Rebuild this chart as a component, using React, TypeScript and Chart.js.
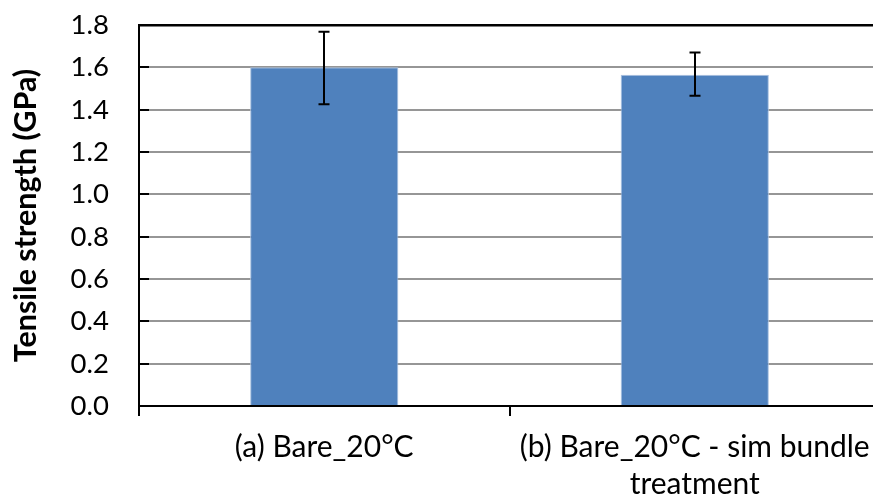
import React, { useEffect, useRef } from "react";
import { Chart, registerables } from "chart.js";

Chart.register(...registerables);

const categories: (string | string[])[] = [
  "(a) Bare_20°C",
  ["(b) Bare_20°C - sim bundle", "treatment"],
];
const strengthValues = [1.6, 1.565];
const errorHigh = [1.768, 1.67];
const errorLow = [1.426, 1.466];
const yTitle = "Tensile strength (GPa)";
const yMin = 0;
const yMax = 1.8;
const yStep = 0.2;

const FONT = "Lato, 'Open Sans', sans-serif";

const errorBarPlugin = {
  id: "errorBars",
  afterDatasetsDraw(chart: any) {
    const { ctx, scales, chartArea } = chart;
    const xs = scales.x;
    const ys = scales.y;
    ctx.save();
    ctx.strokeStyle = "#000";
    ctx.lineWidth = 2;
    ys.ticks.forEach((t: any) => {
      const py = Math.round(ys.getPixelForValue(t.value));
      ctx.beginPath();
      ctx.moveTo(chartArea.left, py);
      ctx.lineTo(chartArea.left + 10, py);
      ctx.stroke();
    });
    const cap = 5.5;
    strengthValues.forEach((_, i) => {
      const px = Math.round(xs.getPixelForValue(i));
      const hi = ys.getPixelForValue(errorHigh[i]);
      const lo = ys.getPixelForValue(errorLow[i]);
      ctx.beginPath();
      ctx.moveTo(px, hi);
      ctx.lineTo(px, lo);
      ctx.moveTo(px - cap, hi);
      ctx.lineTo(px + cap, hi);
      ctx.moveTo(px - cap, lo);
      ctx.lineTo(px + cap, lo);
      ctx.stroke();
    });
    ctx.restore();
  },
};

export default function App() {
  const ref = useRef<HTMLCanvasElement>(null);
  useEffect(() => {
    if (!ref.current) return;
    const chart = new Chart(ref.current, {
      type: "bar",
      data: {
        labels: categories as any,
        datasets: [
          {
            data: strengthValues,
            backgroundColor: "#4F81BD",
            borderColor: "#A9C1E0",
            borderWidth: 1,
            barPercentage: 0.4,
            categoryPercentage: 1,
          },
        ],
      },
      options: {
        animation: false,
        responsive: false,
        maintainAspectRatio: false,
        layout: { padding: { top: 25, left: 0, right: 0, bottom: 0 } },
        plugins: {
          legend: { display: false },
          tooltip: { enabled: false },
        },
        scales: {
          x: {
            offset: true,
            grid: {
              display: true,
              offset: true,
              drawOnChartArea: false,
              drawTicks: true,
              tickLength: 10,
              color: "#000",
              lineWidth: 2,
            },
            border: { display: true, color: "#000", width: 2 },
            ticks: {
              color: "#000",
              font: { family: FONT, size: 30, lineHeight: 1.23 },
              padding: 13,
              maxRotation: 0,
              autoSkip: false,
            },
            afterFit: (s: any) => {
              s.height = 92;
              s.paddingLeft = 0;
              s.paddingRight = 0;
              s.paddingTop = 0;
              s.paddingBottom = 0;
            },
          },
          y: {
            min: yMin,
            max: yMax,
            grid: {
              drawTicks: false,
              color: (c: any) =>
                c.tick && Math.abs(c.tick.value - yMax) < 1e-6 ? "#000" : "#969696",
              lineWidth: (c: any) =>
                c.tick && Math.abs(c.tick.value - yMax) < 1e-6 ? 2.5 : 2,
            },
            border: { display: true, color: "#000", width: 2 },
            ticks: {
              stepSize: yStep,
              color: "#000",
              padding: 30,
              font: { family: FONT, size: 27.5 },
              callback: (v: any) => Number(v).toFixed(1),
            },
            title: {
              display: true,
              text: yTitle,
              color: "#000",
              font: { family: FONT, size: 30.5, weight: "bold" },
              padding: { top: 8, bottom: 0 },
            },
            afterFit: (s: any) => {
              s.width = 139;
              s.paddingTop = 0;
              s.paddingBottom = 0;
              s.paddingLeft = 0;
              s.paddingRight = 0;
            },
          },
        },
      },
      plugins: [errorBarPlugin],
    });
    return () => chart.destroy();
  }, []);
  return (
    <div style={{ position: "fixed", left: 0, top: 0, width: 880, height: 498, background: "#fff" }}>
      <canvas ref={ref} width={880} height={498} style={{ display: "block" }} />
    </div>
  );
}
